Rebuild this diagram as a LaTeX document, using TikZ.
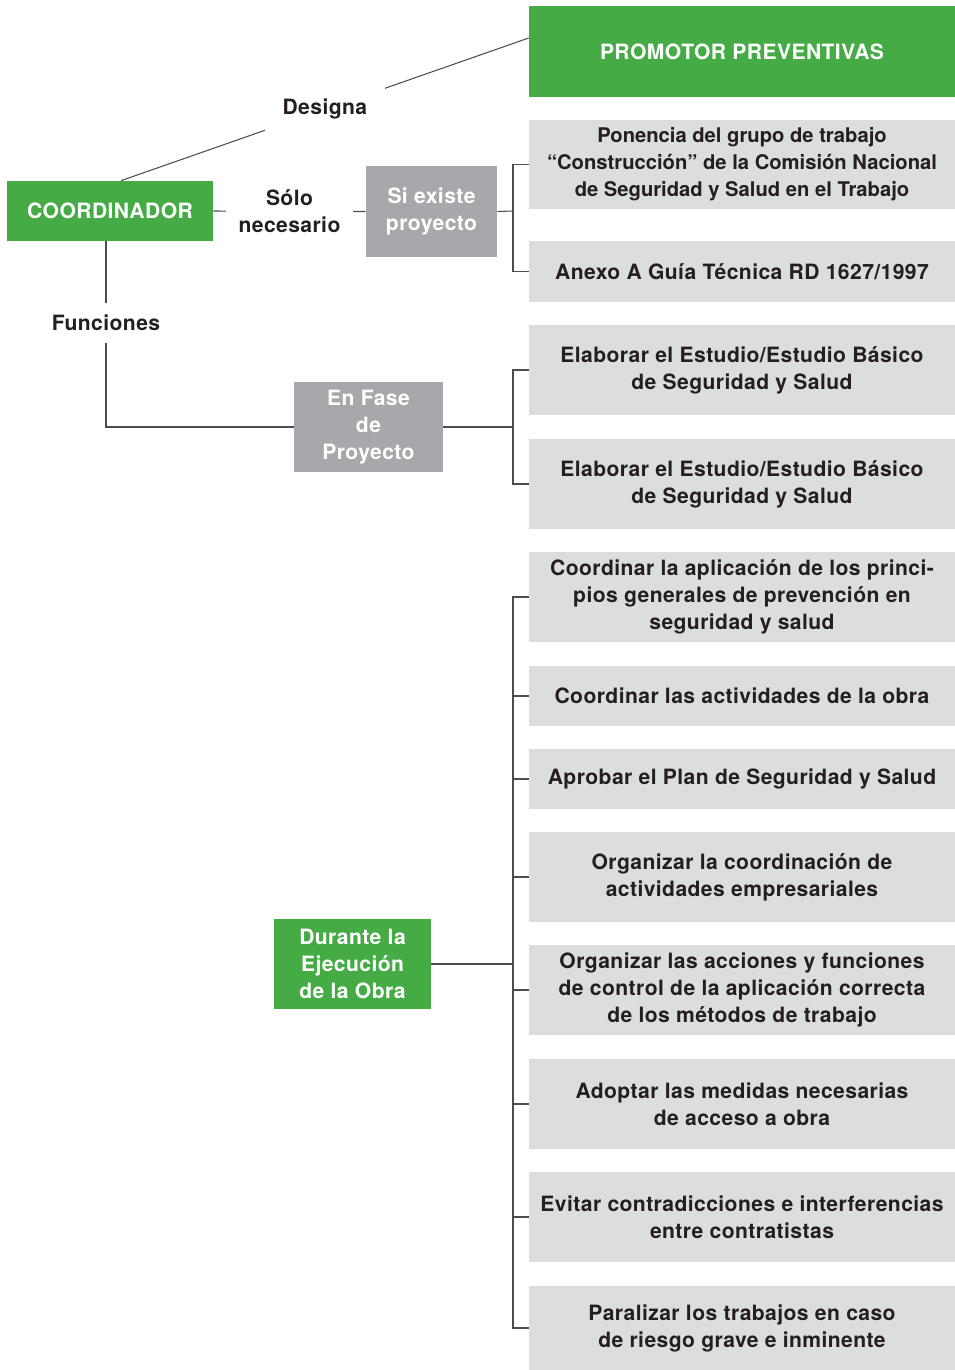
\documentclass[tikz,border=0pt]{standalone}
\usepackage{fontspec}
\setmainfont{TeX Gyre Heros}[LetterSpace=2]
\newfontfamily\plainheros{TeX Gyre Heros}
\usepackage{tikz}
\usetikzlibrary{positioning,calc}
\usepackage{xcolor}
\definecolor{cdgreen}{HTML}{45AC45}
\definecolor{cdgray}{HTML}{A7A8AB}
\definecolor{cdlight}{HTML}{DCDDDE}
\definecolor{cdtext}{HTML}{231F20}
\definecolor{cdline}{HTML}{4D4D4F}

\begin{document}
\begin{tikzpicture}[x=0.02cm, y=-0.02cm,
        every node/.style={font=\fontsize{12}{15.4}\selectfont\bfseries, text=cdtext},
        greenbox/.style={rectangle, fill=cdgreen, text=white, align=center, inner sep=0pt},
        graybox/.style={rectangle, fill=cdgray, text=white, align=center, inner sep=0pt},
        itembox/.style={rectangle, fill=cdlight, align=center, inner sep=0pt, minimum width=8.52cm, minimum height=1.8cm},
        link/.style={line width=0.6pt, draw=cdline},
        tag/.style={fill=white, align=center, inner sep=7pt}
    ]

    % page frame
    \useasboundingbox (0,0) rectangle (955,1370);

    % top: promotor and coordinador
    \node[greenbox, minimum width=8.52cm, minimum height=1.82cm] (promotor) at (742,51.5) {PROMOTOR PREVENTIVAS};
    \node[greenbox, minimum width=4.12cm, minimum height=1.2cm] (coord) at (110,211) {COORDINADOR};
    \node[graybox, minimum width=2.62cm, minimum height=1.82cm] (siexiste) at (431.5,211.5) {Si existe\\proyecto};

    % documents of reference
    \node[itembox, font=\plainheros\fontsize{11.5}{15.4}\selectfont\bfseries] (ponencia) at (742,164.5) {Ponencia del grupo de trabajo\\“Construcción” de la Comisión Nacional\\de Seguridad y Salud en el Trabajo};
    \node[itembox, minimum height=1.22cm] (anexo) at (742,271.5) {Anexo A Guía Técnica RD 1627/1997};

    % project phase
    \node[graybox, minimum width=2.98cm, minimum height=1.8cm] (enfase) at (368.5,427) {En Fase\\de\\Proyecto};
    \node[itembox] (elab1) at (742,370) {Elaborar el Estudio/Estudio Básico\\de Seguridad y Salud};
    \node[itembox] (elab2) at (742,484) {Elaborar el Estudio/Estudio Básico\\de Seguridad y Salud};

    % execution phase
    \node[greenbox, minimum width=3.14cm, minimum height=1.8cm] (durante) at (352.5,964) {Durante la\\Ejecución\\de la Obra};
    \node[itembox] (obra1) at (742,597) {Coordinar la aplicación de los princi-\\pios generales de prevención en\\seguridad y salud};
    \node[itembox, minimum height=1.2cm] (obra2) at (742,696) {Coordinar las actividades de la obra};
    \node[itembox, minimum height=1.2cm] (obra3) at (742,779) {Aprobar el Plan de Seguridad y Salud};
    \node[itembox] (obra4) at (742,877) {Organizar la coordinación de\\actividades empresariales};
    \node[itembox] (obra5) at (742,990) {Organizar las acciones y funciones\\de control de la aplicación correcta\\de los métodos de trabajo};
    \node[itembox] (obra6) at (742,1104) {Adoptar las medidas necesarias\\de acceso a obra};
    \node[itembox] (obra7) at (742,1217) {Evitar contradicciones e interferencias\\entre contratistas};
    \node[itembox, minimum height=1.68cm] (obra8) at (742,1328) {Paralizar los trabajos en caso\\de riesgo grave e inminente};

    % bracket joints
    \coordinate (b1) at (513,211);
    \coordinate (b2) at (513,427);
    \coordinate (b3) at (513,964);

    % connectors with labels
    \draw[link] ($(coord.north)+(11,0)$) -- node[tag, inner sep=10pt] {Designa} ($(promotor.west)+(0,-13.5)$);
    \draw[link] (coord.east) -- node[tag] {Sólo\\necesario} (siexiste.west);
    \draw[link] ($(coord.south)+(-4,0)$) |- node[tag, pos=0.22] {Funciones} (enfase.west);

    % brackets
    \draw[link] (siexiste.east) -- (b1);
    \draw[link] (ponencia.west) -| (b1);
    \draw[link] (anexo.west) -| (b1);
    \draw[link] (enfase.east) -- (b2);
    \draw[link] (elab1.west) -| (b2);
    \draw[link] (elab2.west) -| (b2);
    \draw[link] (durante.east) -- (b3);
    \foreach \i in {1,...,8}
        \draw[link] (obra\i.west) -| (b3);

\end{tikzpicture}
\end{document}
